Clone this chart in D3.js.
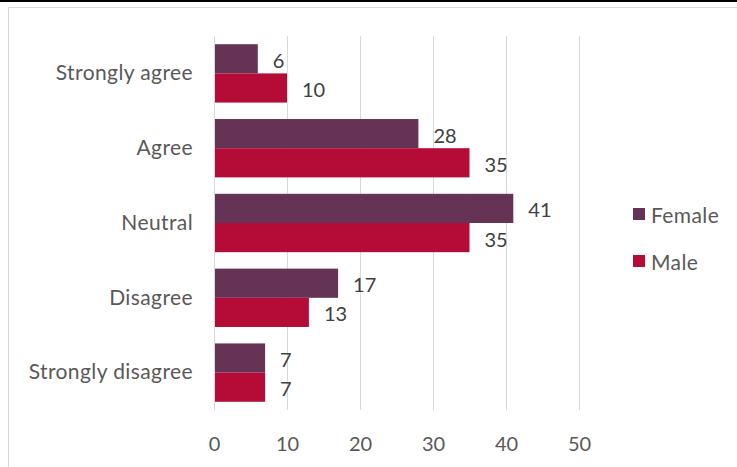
<!DOCTYPE html>
<html>
<head>
<meta charset="utf-8">
<script src="https://cdn.jsdelivr.net/npm/d3@7"></script>
<style>
  html, body { margin: 0; padding: 0; background: #fff; }
  svg { display: block; }
  text { font-family: Lato, "Open Sans", sans-serif; }
</style>
</head>
<body>
<svg id="chart" width="737" height="467"></svg>
<script>
// Responses by gender
const categories = ["Strongly agree", "Agree", "Neutral", "Disagree", "Strongly disagree"];
const seriesNames = ["Female", "Male"];
const femaleValues = [6, 28, 41, 17, 7];
const maleValues = [10, 35, 35, 13, 7];
const xTicks = [0, 10, 20, 30, 40, 50];

const colors = { Female: "#643356", Male: "#B50B37" };

const svg = d3.select("#chart");
const W = 737, H = 467;

// page rule above the chart frame
svg.append("rect").attr("x", 0).attr("y", 0).attr("width", W).attr("height", 2).attr("fill", "#000");

// chart frame (left and top edges visible)
svg.append("path")
  .attr("d", `M8.5,${H} V7.5 H${W}`)
  .attr("fill", "none")
  .attr("stroke", "#d9d9d9")
  .attr("stroke-width", 1);

const plot = { left: 214, right: 579, top: 36, bottom: 410 };

const x = d3.scaleLinear().domain([0, 50]).range([plot.left, plot.right]);
const y = d3.scaleBand().domain(categories).range([plot.top, plot.bottom]).paddingInner(0.22).paddingOuter(0.11);
const ySub = d3.scaleBand().domain(seriesNames).range([0, y.bandwidth()]);

// vertical gridlines
svg.append("g").selectAll("line").data(xTicks).join("line")
  .attr("x1", d => Math.round(x(d)) + 0.5).attr("x2", d => Math.round(x(d)) + 0.5)
  .attr("y1", plot.top).attr("y2", plot.bottom)
  .attr("stroke", "#d9d9d9").attr("stroke-width", 1);

// x axis tick labels
const xAxis = d3.axisBottom(x).tickValues(xTicks).tickSize(0).tickPadding(0);
const gx = svg.append("g").attr("transform", `translate(0,${plot.bottom + 26})`).call(xAxis);
gx.select(".domain").remove();
gx.selectAll("text").attr("fill", "#595959").style("font-size", "20px").attr("dy", "0.35em").attr("y", 8);

// category axis labels
const yAxis = d3.axisLeft(y).tickSize(0).tickPadding(21);
const gy = svg.append("g").attr("transform", `translate(${plot.left},0)`).call(yAxis);
gy.select(".domain").remove();
gy.selectAll("text").attr("fill", "#595959").style("font-size", "21px").style("letter-spacing", "0.4px");

// bars
const rows = categories.map((c, i) => ({ cat: c, Female: femaleValues[i], Male: maleValues[i] }));
const groups = svg.append("g").selectAll("g").data(rows).join("g")
  .attr("transform", d => `translate(0,${y(d.cat)})`);

groups.selectAll("rect").data(d => seriesNames.map(s => ({ s, v: d[s] }))).join("rect")
  .attr("x", x(0) + 1)
  .attr("y", d => ySub(d.s))
  .attr("width", d => x(d.v) - x(0) - 1)
  .attr("height", ySub.bandwidth())
  .attr("fill", d => colors[d.s]);

// value labels
groups.selectAll("text.val").data(d => seriesNames.map(s => ({ s, v: d[s] }))).join("text")
  .attr("class", "val")
  .attr("x", d => x(d.v) + 15)
  .attr("y", d => ySub(d.s) + ySub.bandwidth() / 2 + 2)
  .attr("dy", "0.35em")
  .attr("fill", "#404040")
  .style("font-size", "20px")
  .text(d => d.v);

// legend
const legend = svg.append("g").attr("transform", "translate(633,208)");
const li = legend.selectAll("g").data(seriesNames).join("g")
  .attr("transform", (d, i) => `translate(0,${i * 47})`);
li.append("rect").attr("width", 12).attr("height", 12).attr("fill", d => colors[d]);
li.append("text").attr("x", 18).attr("y", 8).attr("dy", "0.35em")
  .attr("fill", "#595959").style("font-size", "21px").style("letter-spacing", "0.4px").text(d => d);
</script>
</body>
</html>
